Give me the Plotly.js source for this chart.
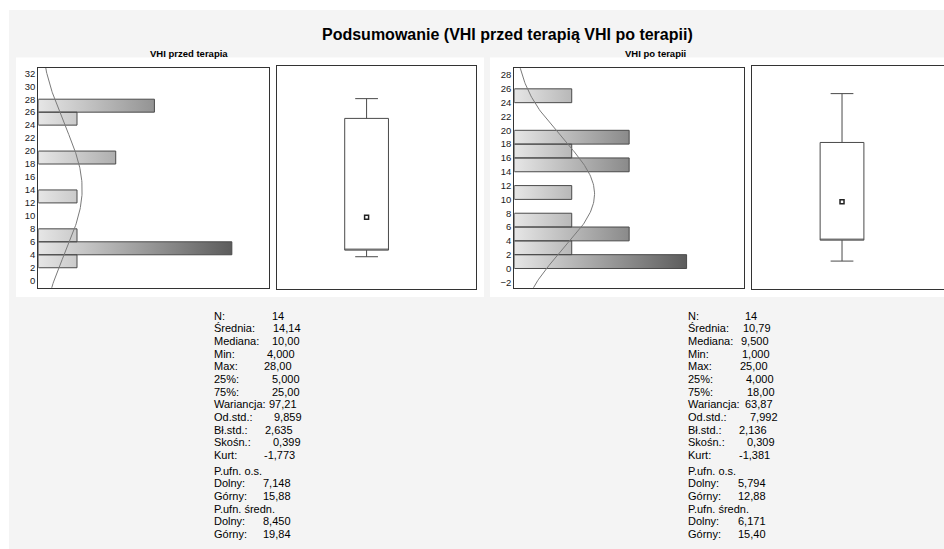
<!DOCTYPE html>
<html>
<head>
<meta charset="utf-8">
<script src="https://cdn.plot.ly/plotly-3.0.1.min.js"></script>
<style>html,body{margin:0;padding:0;background:#fff;}#chart{width:944px;height:549px;}</style>
</head>
<body>
<div id="chart"></div>
<script>
// ---------- data ----------
const chartTitle = "Podsumowanie (VHI przed terapią VHI po terapii)";
const panelTitles = ["VHI przed terapia", "VHI po terapii"];

// histogram bins (lower edge), bin width 2, and counts
const binWidth = 2;
const leftBinLow = [2, 4, 6, 12, 18, 24, 26];
const leftCounts = [1, 5, 1, 1, 2, 1, 3];
const rightBinLow = [0, 2, 4, 6, 10, 14, 16, 18, 24];
const rightCounts = [3, 1, 2, 1, 1, 2, 1, 2, 1];

// summary statistics [przed, po]
const nObs = [14, 14];
const means = [14.14, 10.79];
const sds = [9.859, 7.992];
const mins = [4, 1];
const q1s = [5, 4];
const medians = [10, 9.5];
const q3s = [25, 18];
const maxs = [28, 25];

// statistics text
const statLabels = ["N:", "Średnia:", "Mediana:", "Min:", "Max:", "25%:", "75%:", "Wariancja:",
  "Od.std.:", "Bł.std.:", "Skośn.:", "Kurt:", "P.ufn. o.s.", "Dolny:", "Górny:", "P.ufn. średn.", "Dolny:", "Górny:"];
const leftStatValues = ["14", "14,14", "10,00", "4,000", "28,00", "5,000", "25,00", "97,21",
  "9,859", "2,635", "0,399", "-1,773", "", "7,148", "15,88", "", "8,450", "19,84"];
const rightStatValues = ["14", "10,79", "9,500", "1,000", "25,00", "4,000", "18,00", "63,87",
  "7,992", "2,136", "0,309", "-1,381", "", "5,794", "12,88", "", "6,171", "15,40"];

// ---------- layout helpers (pixel geometry) ----------
const W = 944, H = 549;
const px = x => x / W;
const py = y => 1 - y / H;
const FONT = "Liberation Sans, Arial, sans-serif";

// value text offsets (px from label start), tab-like alignment of the original
const leftValOffsets = [58, 59, 58, 53.5, 50, 58.5, 58.5, 55.5, 60, 51, 59, 50, 0, 49, 49, 0, 49, 49];
const rightValOffsets = [57, 55, 53, 54, 52, 58, 59, 56.5, 62, 50.5, 59, 50.5, 0, 50, 50, 0, 50, 50];

function barPolys(lows, counts, w) {
  const xs = [], ys = [];
  lows.forEach((lo, i) => {
    const c = counts[i];
    xs.push(0, c, c, 0, 0, null);
    ys.push(lo, lo, lo + w, lo + w, lo, null);
  });
  return {xs, ys};
}

function normalCurve(k, yMin, yMax) {
  const xs = [], ys = [];
  const steps = 200;
  for (let i = 0; i <= steps; i++) {
    const y = yMin + (yMax - yMin) * i / steps;
    const z = (y - means[k]) / sds[k];
    xs.push(nObs[k] * binWidth * Math.exp(-0.5 * z * z) / (sds[k] * Math.sqrt(2 * Math.PI)));
    ys.push(y);
  }
  return {xs, ys};
}

const traces = [];
function addHist(lows, counts, k, xa, ya, yr) {
  const p = barPolys(lows, counts, binWidth);
  const maxC = Math.max(...counts);
  traces.push({
    type: "scatter", mode: "lines", x: p.xs, y: p.ys, xaxis: xa, yaxis: ya,
    fill: "toself",
    fillgradient: {type: "horizontal", start: 0, stop: maxC,
      colorscale: [[0, "#e6e6e6"], [1, "#5c5c5c"]]},
    line: {color: "#4a4a4a", width: 1}, hoverinfo: "skip", showlegend: false
  });
  const n = normalCurve(k, yr[0] - 6, yr[1] + 6);
  traces.push({
    type: "scatter", mode: "lines", x: n.xs, y: n.ys, xaxis: xa, yaxis: ya,
    line: {color: "#7a7a7a", width: 1}, hoverinfo: "skip", showlegend: false
  });
}
function addBox(k, xa, ya) {
  traces.push({
    type: "box", x: [0], xaxis: xa, yaxis: ya,
    q1: [q1s[k]], median: [q1s[k]], q3: [q3s[k]],
    lowerfence: [mins[k]], upperfence: [maxs[k]],
    width: 0.49, whiskerwidth: 0.52, fillcolor: "#ffffff",
    line: {color: "#4a4a4a", width: 1}, boxpoints: false, hoverinfo: "skip", showlegend: false
  });
  traces.push({
    type: "scatter", mode: "markers", x: [0], y: [medians[k]], xaxis: xa, yaxis: ya,
    marker: {symbol: "square", size: 4, color: "#ffffff", line: {color: "#222", width: 1.5}},
    hoverinfo: "skip", showlegend: false
  });
}

const yrL = [-1.08, 32.86], yrR = [-2.78, 29.06];
addHist(leftBinLow, leftCounts, 0, "x", "y", yrL);
addBox(0, "x2", "y2");
addHist(rightBinLow, rightCounts, 1, "x3", "y3", yrR);
addBox(1, "x4", "y4");

const frame = {showline: true, linecolor: "#333", linewidth: 1, showgrid: false, zeroline: false, fixedrange: true};
const histY = {
  ...frame, mirror: true, dtick: 2, tick0: 0, ticks: "", showticklabels: true,
  tickfont: {family: FONT, size: 9.5, color: "#1a1a1a"}
};

const subFont = {family: FONT, size: 9.5, weight: "bold", color: "#000"};
const annotations = [
  {text: panelTitles[0], x: px(147.7), y: py(53.5), xref: "paper", yref: "paper", showarrow: false,
   xanchor: "left", yanchor: "middle", font: subFont},
  {text: panelTitles[1], x: px(622.7), y: py(53.5), xref: "paper", yref: "paper", showarrow: false,
   xanchor: "left", yanchor: "middle", font: subFont}
];
function addStats(x0, vals, offs) {
  let y = 315.7;
  statLabels.forEach((lab, i) => {
    if (i === 12) y += 3;
    const font = {family: FONT, size: 11, color: "#000"};
    annotations.push({text: lab, x: px(x0), y: py(y), xref: "paper", yref: "paper", showarrow: false,
      xanchor: "left", yanchor: "middle", font});
    if (vals[i]) {
      annotations.push({text: vals[i], x: px(x0 + offs[i]), y: py(y), xref: "paper", yref: "paper",
        showarrow: false, xanchor: "left", yanchor: "middle", font});
    }
    y += 12.67;
  });
}
addStats(211.7, leftStatValues, leftValOffsets);
addStats(686, rightStatValues, rightValOffsets);

const layout = {
  width: W, height: H,
  margin: {l: 0, r: 0, t: 0, b: 0},
  paper_bgcolor: "#ffffff", plot_bgcolor: "#ffffff",
  showlegend: false,
  title: {text: chartTitle, x: px(322), y: py(34), xanchor: "left", yanchor: "middle",
    font: {family: FONT, size: 16, weight: "bold", color: "#000"}},
  font: {family: FONT},
  xaxis: {...frame, mirror: true, domain: [px(38.3), px(269)], range: [0, 5.96], anchor: "y",
    showticklabels: false, ticks: ""},
  yaxis: {...histY, domain: [py(287.7), py(67.7)], range: yrL, anchor: "x"},
  xaxis2: {...frame, mirror: true, domain: [px(277.3), px(475.7)], range: [-1, 1.222], anchor: "y2",
    showticklabels: false, ticks: ""},
  yaxis2: {...frame, mirror: true, domain: [py(289), py(65.7)], range: [-0.9, 33], anchor: "x2",
    showticklabels: false, ticks: ""},
  xaxis3: {...frame, mirror: true, domain: [px(514.3), px(744)], range: [0, 4], anchor: "y3",
    showticklabels: false, ticks: ""},
  yaxis3: {...histY, domain: [py(287.7), py(67.7)], range: yrR, anchor: "x3"},
  xaxis4: {...frame, mirror: true, domain: [px(752), 1], range: [-1.008, 1.142], anchor: "y4",
    showticklabels: false, ticks: ""},
  yaxis4: {...frame, mirror: false, domain: [py(289), py(65.7)], range: [-3, 29], anchor: "x4",
    showticklabels: false, ticks: ""},
  shapes: [
    {type: "rect", xref: "paper", yref: "paper", x0: px(9), x1: 1, y0: 0, y1: py(10),
     fillcolor: "#f4f4f4", line: {width: 0}, layer: "below"},
    {type: "rect", xref: "paper", yref: "paper", x0: px(16), x1: px(484), y0: py(297), y1: py(57.5),
     fillcolor: "#ffffff", line: {width: 0}, layer: "below"},
    {type: "rect", xref: "paper", yref: "paper", x0: px(490), x1: 1, y0: py(297), y1: py(57.5),
     fillcolor: "#ffffff", line: {width: 0}, layer: "below"}
  ],
  annotations
};

Plotly.newPlot("chart", traces, layout, {staticPlot: true, displayModeBar: false});
</script>
</body>
</html>
